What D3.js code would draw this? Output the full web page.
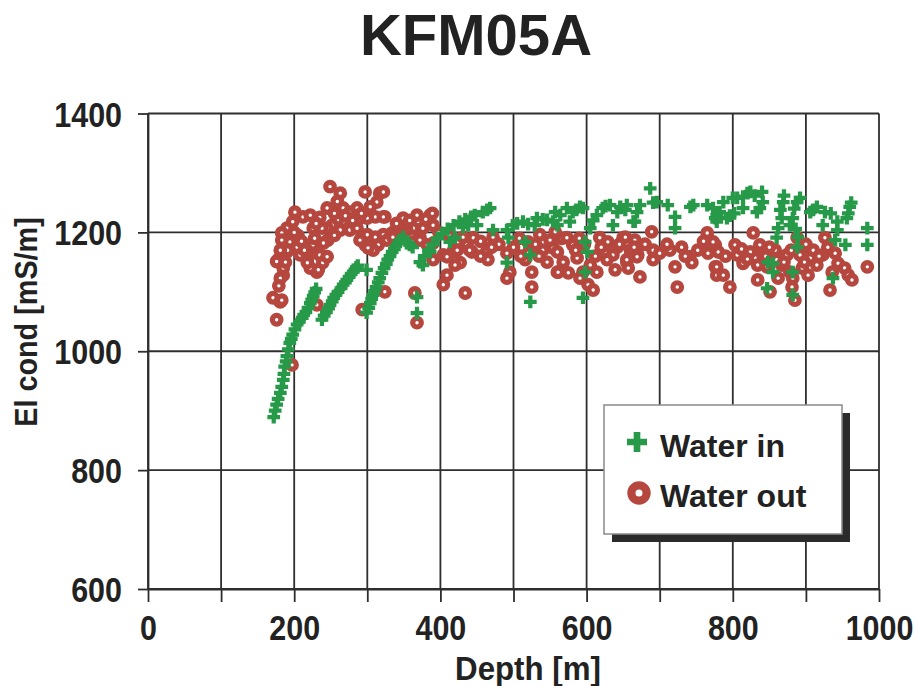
<!DOCTYPE html>
<html>
<head>
<meta charset="utf-8">
<script src="https://cdn.jsdelivr.net/npm/d3@7"></script>
<style>
  html, body { margin: 0; padding: 0; background: #ffffff; }
  svg { display: block; }
  text { font-family: "Liberation Sans", Arial, Helvetica, sans-serif; font-weight: bold; fill: #222222; }
</style>
</head>
<body>
<svg id="chart" width="918" height="686"></svg>
<script>
// Axis ticks and labels
const depthGrid = [0, 100, 200, 300, 400, 500, 600, 700, 800, 900, 1000];
const depthLabels = [0, 200, 400, 600, 800, 1000];
const condTicks = [600, 800, 1000, 1200, 1400];

// Water in: [depth m, conductivity mS/m]
const waterIn = [
  [172,889],[174,900],[176,910],[178,920],[181,930],[183,940],[185,952],[186,962],[187,974],[189,983],
  [190,992],[192,1003],[194,1014],[196,1021],[198,1028],[201,1037],[204,1045],[207,1050],[211,1056],[213,1061],
  [216,1066],[219,1073],[222,1081],[224,1087],[226,1093],[228,1099],[230,1105],
  [238,1053],[241,1060],[244,1066],[247,1072],[249,1078],[252,1084],[254,1090],[257,1095],[260,1100],[264,1106],
  [267,1112],[270,1116],[272,1120],[275,1125],[278,1130],[281,1134],[283,1137],[285,1141],[287,1144],
  [299,1137],
  [299,1065],[302,1073],[304,1081],[306,1088],[308,1095],[310,1101],[312,1108],[315,1116],[317,1123],[320,1132],
  [323,1140],[326,1147],[328,1154],[331,1160],[334,1167],[337,1172],[339,1177],[342,1182],[345,1187],[349,1192],
  [354,1182],[358,1179],[362,1175],[368,1091],[368,1064],
  [372,1150],[376,1145],[378,1160],[384,1170],[386,1167],[390,1180],[396,1190],[402,1198],[410,1206],[413,1184],
  [418,1212],[420,1191],[426,1218],[431,1209],[434,1222],[438,1212],[442,1226],[447,1229],[450,1212],[458,1234],
  [464,1238],[468,1241],
  [472,1204],[491,1204],[493,1191],[491,1149],[499,1212],[505,1215],[513,1218],[516,1184],[520,1214],[523,1162],
  [523,1083],[529,1212],[532,1224],[540,1222],[546,1221],[554,1218],[557,1234],
  [560,1212],[564,1229],[573,1241],[577,1218],[581,1234],[586,1238],[591,1243],[595,1241],[598,1184],[601,1167],
  [598,1133],[595,1090],[605,1207],[609,1220],[614,1229],[622,1241],[626,1244],[632,1246],[636,1212],[642,1234],
  [646,1243],[653,1238],[655,1246],[664,1218],[666,1218],[669,1234],[673,1246],[687,1274],[691,1250],[696,1251],
  [711,1246],[721,1226],[721,1207],[742,1243],[746,1246],[765,1246],[773,1241],[776,1224],[778,1218],[778,1229],
  [782,1234],[787,1251],[792,1224],[796,1228],[800,1258],[802,1232],[806,1258],[814,1241],[814,1260],[820,1266],
  [824,1268],[830,1262],[833,1234],[837,1241],[840,1268],[841,1251],[860,1191],[862,1207],[865,1238],[867,1224],
  [869,1251],[870,1262],[878,1212],[882,1224],[884,1240],[886,1206],[888,1251],[888,1175],[889,1192],[892,1258],
  [906,1234],[910,1238],[915,1243],[923,1212],[926,1234],[934,1232],[940,1187],[943,1218],[943,1204],[954,1179],
  [956,1224],[958,1232],[960,1243],[962,1250],[984,1207],[984,1179],
  [847,1106],[848,1150],[855,1148],[855,1133],[882,1133],[882,1095],[937,1123]
];

// Water out: [depth m, conductivity mS/m]
const waterOut = [
  [249,1277],[263,1266],[259,1252],[245,1241],[267,1241],[276,1234],[286,1241],[297,1268],[317,1266],[313,1251],
  [304,1243],[324,1226],[311,1226],[300,1224],[287,1221],[276,1216],[267,1218],[259,1221],[252,1212],[245,1207],
  [238,1207],[226,1207],[212,1226],[222,1229],[201,1234],[198,1218],[190,1207],[183,1199],[194,1184],[190,1167],
  [178,1154],[185,1128],[181,1123],[204,1175],[208,1162],[218,1154],[226,1179],[235,1162],[239,1149],[231,1133],
  [222,1140],[219,1165],[246,1187],[263,1204],[276,1204],[286,1207],[300,1196],[311,1192],[322,1196],[334,1199],
  [341,1207],[354,1212],[315,1179],[308,1170],[297,1179],[290,1187],[171,1090],[181,1083],[176,1053],[231,1078],
  [293,1070],[324,1100],[197,977],[191,1170],[176,1151],[183,1086],[245,1159],[233,1137],[218,1149],[301,1174],
  [183,1187],[181,1170],[205,1195],[210,1185],[200,1200],[214,1170],[228,1190],[235,1225],[255,1232],[270,1228],
  [280,1220],[292,1232],[255,1195],[240,1182],[230,1215],[185,1140],[179,1110],[188,1150],
  [349,1224],[368,1229],[386,1229],[390,1212],[376,1207],[363,1207],[354,1204],[372,1191],[363,1184],[382,1179],
  [390,1154],[404,1162],[409,1128],[404,1112],[417,1167],[424,1184],[436,1179],[443,1167],[445,1191],[427,1149],
  [420,1145],[464,1170],[465,1154],[472,1192],[434,1098],[365,1098],[368,1048],[491,1165],[495,1133],[491,1123],
  [520,1184],[520,1165],[516,1154],[525,1133],[525,1108],[540,1170],[546,1150],[554,1174],[560,1133],[550,1187],
  [536,1196],[322,1268],[322,1226],[327,1187],[335,1192],[349,1199],[423,1170],[431,1192],[440,1170],[390,1182],
  [372,1187],[389,1232],[409,1159],[340,1215],[358,1220],[380,1222],[398,1200],[412,1195],[455,1160],[480,1180],
  [500,1175],[508,1190],[530,1180],[566,1190],[455,1185],[470,1175],[510,1160],[535,1160],
  [557,1201],[573,1191],[560,1167],[581,1179],[568,1150],[587,1157],[561,1133],[575,1132],[595,1133],[591,1123],
  [605,1145],[602,1112],[609,1103],[614,1133],[618,1191],[629,1184],[625,1167],[636,1162],[642,1175],[650,1191],
  [666,1187],[655,1150],[657,1140],[670,1162],[673,1125],[639,1137],[628,1154],[689,1201],[691,1170],[691,1154],
  [714,1170],[721,1142],[724,1108],[741,1159],[744,1149],[765,1199],[766,1165],[776,1142],[778,1128],[776,1179],
  [653,1192],[669,1159],[655,1154],[585,1170],[597,1180],[612,1160],[645,1180],[660,1170],[680,1180],[700,1165],
  [730,1175],[752,1170],[590,1190],[620,1175],[665,1175],[710,1180],[735,1160],[760,1185],
  [773,1184],[780,1167],[778,1142],[787,1128],[796,1108],[803,1179],[806,1162],[814,1148],[824,1167],[828,1199],
  [834,1145],[837,1179],[841,1162],[834,1120],[847,1142],[851,1100],[858,1170],[860,1154],[862,1123],[867,1145],
  [874,1162],[878,1133],[882,1123],[881,1108],[885,1086],[888,1191],[892,1162],[895,1140],[903,1128],[906,1157],
  [910,1170],[915,1145],[923,1162],[926,1191],[930,1175],[944,1148],[936,1133],[933,1103],[953,1140],[958,1128],
  [963,1120],[984,1142],[790,1160],[812,1172],[845,1160],[870,1150],[898,1150],[918,1160],[940,1165],
  [820,1155],[850,1175],[880,1170],[900,1180]
];

const seriesNames = ["Water in", "Water out"];
const greenColor = "#269a48";
const redColor = "#b5473f";
const lineColor = "#2e2e2e";

const svg = d3.select("#chart");
const x = d3.scaleLinear().domain([0, 1000]).range([148, 879]);
const y = d3.scaleLinear().domain([600, 1400]).range([589, 113.5]);

// Title
svg.append("text")
  .attr("x", 476).attr("y", 55)
  .attr("text-anchor", "middle")
  .style("font-size", "58px")
  .text("KFM05A");

// Grid
const grid = svg.append("g");
grid.selectAll("line.v").data(depthGrid).join("line")
  .attr("x1", d => x(d)).attr("x2", d => x(d))
  .attr("y1", y(1400)).attr("y2", y(600))
  .attr("stroke", lineColor).attr("stroke-width", 1.8);
grid.selectAll("line.h").data(condTicks).join("line")
  .attr("x1", x(0)).attr("x2", x(1000))
  .attr("y1", d => y(d)).attr("y2", d => y(d))
  .attr("stroke", lineColor).attr("stroke-width", 1.8);

// Y axis
const yAxis = svg.append("g")
  .attr("transform", `translate(${x(0)},0)`)
  .call(d3.axisLeft(y).tickValues(condTicks).tickSize(10).tickSizeOuter(0).tickFormat(d3.format("d")));
yAxis.attr("font-size", null).attr("font-family", null);
yAxis.select(".domain").attr("stroke", lineColor).attr("stroke-width", 1.8);
yAxis.selectAll(".tick line").attr("stroke", lineColor).attr("stroke-width", 1.8);
yAxis.selectAll(".tick text")
  .attr("x", 0).attr("dy", null).attr("fill", null)
  .attr("text-anchor", "end")
  .attr("transform", "translate(-26,12.5) scale(0.87,1)")
  .style("font-size", "35px");

// X axis
const xAxis = svg.append("g")
  .attr("transform", `translate(0,${y(600)})`)
  .call(d3.axisBottom(x).tickValues(depthGrid).tickSize(13).tickSizeOuter(0)
    .tickFormat(d => depthLabels.includes(d) ? String(d) : ""));
xAxis.attr("font-size", null).attr("font-family", null);
xAxis.select(".domain").attr("stroke", lineColor).attr("stroke-width", 1.8);
xAxis.selectAll(".tick line").attr("stroke", lineColor).attr("stroke-width", 1.8);
xAxis.selectAll(".tick text")
  .attr("y", 0).attr("dy", null).attr("fill", null)
  .attr("text-anchor", "middle")
  .attr("transform", "translate(0,51) scale(0.87,1)")
  .style("font-size", "35px");

// Axis titles
svg.append("text")
  .attr("transform", "translate(528,680) scale(0.92,1)")
  .attr("text-anchor", "middle")
  .style("font-size", "34px")
  .text("Depth [m]");
svg.append("text")
  .attr("transform", "translate(37,322) rotate(-90) scale(0.9,1)")
  .attr("text-anchor", "middle")
  .style("font-size", "32px")
  .text("El cond [mS/m]");

// Water out: ring markers
svg.append("g").selectAll("circle").data(waterOut).join("circle")
  .attr("cx", d => x(d[0])).attr("cy", d => y(d[1]))
  .attr("r", 4.3)
  .attr("fill", "#ffffff")
  .attr("stroke", redColor).attr("stroke-width", 5.2);

// Water in: cross markers
const crossPath = d3.symbol(d3.symbolCross, 90)();
svg.append("g").selectAll("path").data(waterIn).join("path")
  .attr("transform", d => `translate(${x(d[0])},${y(d[1])})`)
  .attr("d", crossPath)
  .attr("fill", greenColor);

// Legend
const legend = svg.append("g");
legend.append("rect")
  .attr("x", 612).attr("y", 413).attr("width", 238).attr("height", 129)
  .attr("fill", "#2b2b2b");
legend.append("rect")
  .attr("x", 604).attr("y", 405).attr("width", 238).attr("height", 129)
  .attr("fill", "#ffffff").attr("stroke", "#8a8a8a").attr("stroke-width", 1.5);
legend.append("path")
  .attr("transform", "translate(637,442)")
  .attr("d", d3.symbol(d3.symbolCross, 222)())
  .attr("fill", greenColor);
legend.append("circle")
  .attr("cx", 639).attr("cy", 493).attr("r", 7.6)
  .attr("fill", "#ffffff").attr("stroke", redColor).attr("stroke-width", 8.2);
legend.selectAll("text").data(seriesNames).join("text")
  .attr("x", 660).attr("y", (d, i) => 457 + i * 50)
  .style("font-size", "32px")
  .text(d => d);
</script>
</body>
</html>
